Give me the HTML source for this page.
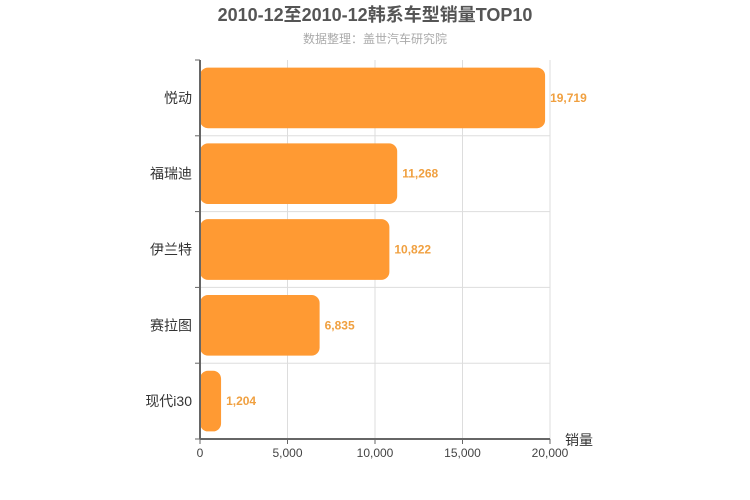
<!DOCTYPE html>
<html><head><meta charset="utf-8"><style>
body{margin:0;background:#fff;width:750px;height:500px;overflow:hidden}
svg{display:block;font-family:"Liberation Sans","Noto Sans CJK SC",sans-serif}
</style></head><body>
<svg id="chart" width="750" height="500">
<text x="375" y="21" text-anchor="middle" font-size="18" font-weight="bold" fill="#555">2010-12至2010-12韩系车型销量TOP10</text>
<text x="375" y="43" text-anchor="middle" font-size="12" fill="#aaa">数据整理：盖世汽车研究院</text>
<g id="grid"></g><g id="bars"></g><g id="axes"></g>
</svg>
<script>
const categories=["悦动","福瑞迪","伊兰特","赛拉图","现代i30"];
const values=[19719,11268,10822,6835,1204];
const xTicks=[0,5000,10000,15000,20000];
const xMax=20000;
const L=200,R=550,T=60,B=439;
const NS="http://www.w3.org/2000/svg";
function x(v){return L+(v/xMax)*(R-L);}
const band=(B-T)/categories.length;
function y(i){return T+i*band;}
function mk(tag,attrs,parent){const e=document.createElementNS(NS,tag);for(const k in attrs)e.setAttribute(k,attrs[k]);parent.appendChild(e);return e;}
const grid=document.getElementById('grid'),bars=document.getElementById('bars'),axes=document.getElementById('axes');
xTicks.forEach(t=>{if(t===0)return;const l=mk('line',{x1:x(t),x2:x(t),y1:T,y2:B,stroke:'#ddd'},grid);

});
for(let i=1;i<categories.length;i++){const l=mk('line',{x1:L,x2:R,y1:y(i),y2:y(i),stroke:'#ddd'},grid);

}
categories.forEach((c,i)=>{
 const h=band*0.8,by=y(i)+(band-h)/2;
 const r=mk('rect',{x:L,y:by,width:x(values[i])-L,height:h,rx:8,ry:8,fill:'#ff9a33'},bars);
 
 
 const vt=mk('text',{x:x(values[i])+5,y:by+h/2+4,'font-size':12,'font-weight':'bold',fill:'#f0a040'},bars);
 vt.textContent=values[i].toLocaleString('en-US');
 
 
 const ct=mk('text',{x:L-8,y:y(i)+band/2+5,'text-anchor':'end','font-size':14,fill:'#333'},axes);
 ct.textContent=c;
 
 
});
const ya=mk('line',{x1:L,x2:L,y1:T,y2:B,stroke:'#666','stroke-width':2},axes);


for(let i=0;i<=categories.length;i++){const tk=mk('line',{x1:L-5,x2:L,y1:y(i),y2:y(i),stroke:'#666'},axes);

}
const xa=mk('line',{x1:L,x2:R,y1:B,y2:B,stroke:'#666','stroke-width':2},axes);


xTicks.forEach(t=>{const tk=mk('line',{x1:x(t),x2:x(t),y1:B,y2:B+5,stroke:'#666'},axes);


const tl=mk('text',{x:x(t),y:B+18,'text-anchor':'middle','font-size':12,fill:'#444'},axes);
tl.textContent=t.toLocaleString('en-US');

});
const at=mk('text',{x:565,y:445,'font-size':14,fill:'#333'},axes);
at.textContent='销量';


</script>
</body></html>
